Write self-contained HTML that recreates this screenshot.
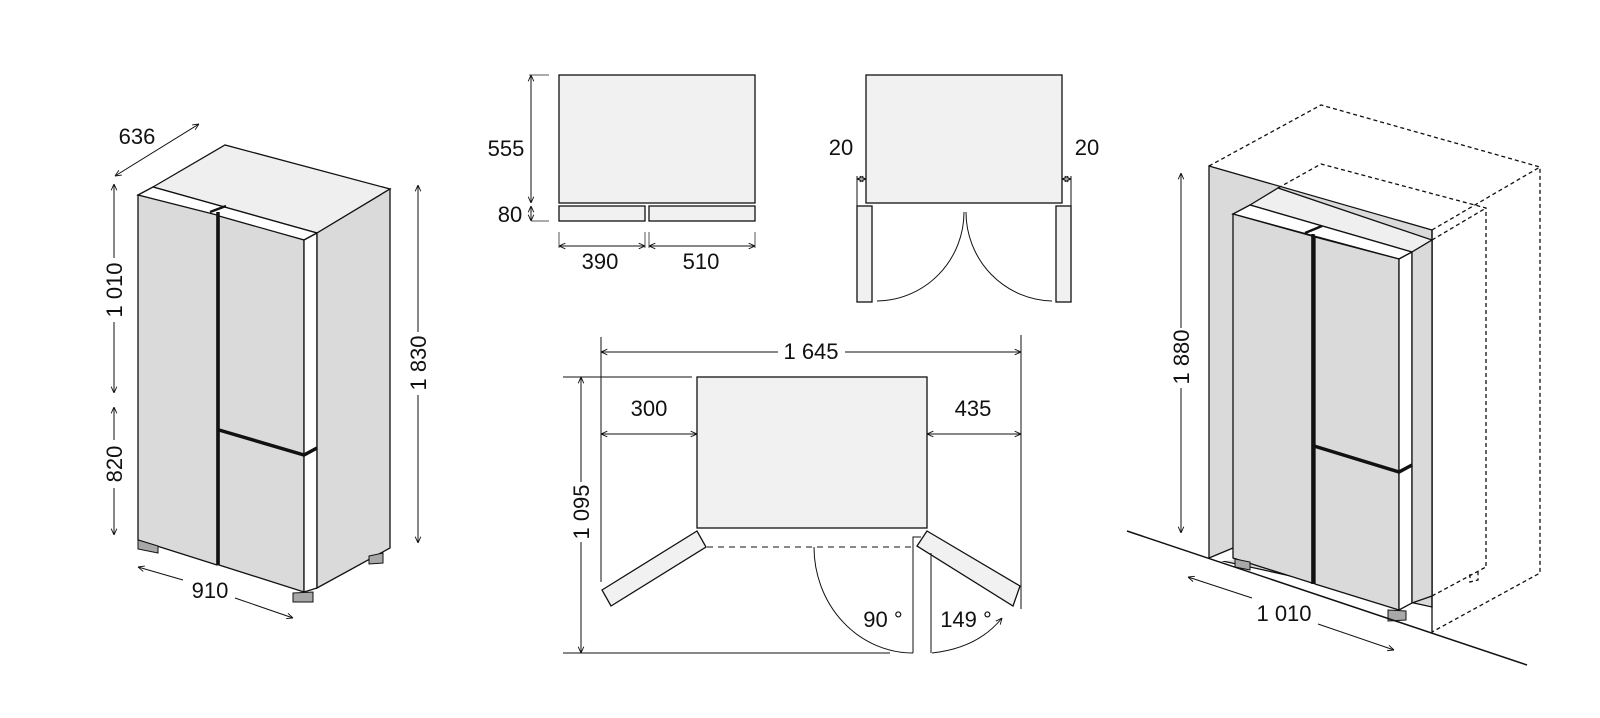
<!DOCTYPE html>
<html><head><meta charset="utf-8"><style>
html,body{margin:0;padding:0;background:#fff;}
svg{display:block;}
text{font-family:"Liberation Sans Narrow","Liberation Sans",sans-serif;font-size:22px;fill:#111;}
</style></head><body>
<svg width="1600" height="718" viewBox="0 0 1600 718" xmlns="http://www.w3.org/2000/svg">
<defs>
<marker id="a" viewBox="0 0 10 10" refX="10" refY="5" markerWidth="7" markerHeight="7" orient="auto-start-reverse" markerUnits="userSpaceOnUse">
<path d="M1,1 L10,5 L1,9" fill="none" stroke="#111" stroke-width="1.3"/></marker>
</defs>
<g stroke="#111" stroke-width="1" fill="none">
<!-- LEFT FRIDGE -->
<g stroke-width="1.3">
<polygon points="153,187 225,145 390,189 317,233" fill="#efefef"/>
<polygon points="138,195 153,187 317,233 304,240" fill="#fff"/>
<polygon points="138,195 217,215 217,565 138,540" fill="#dadada"/>
<polygon points="219,216 304,240 304,592 219,565" fill="#dadada"/>
<polygon points="304,240 317,233 317,588 304,592" fill="#fff"/>
<polygon points="317,233 390,189 390,548 317,588" fill="#dadada"/>
<polygon points="138,540 158,546 158,553 138,549" fill="#a8a8a8" stroke-width="1"/>
<polygon points="293,593 313,592 313,602 293,602" fill="#a8a8a8" stroke-width="1"/>
<polygon points="369,556 383,553 383,563 369,564" fill="#a8a8a8" stroke-width="1"/>
</g>
<line x1="218" y1="212" x2="218" y2="565" stroke-width="3.5"/>
<polyline points="219,430 304,455 317,448" stroke-width="3.5"/>
<line x1="210" y1="212" x2="226" y2="206" stroke-width="2.5"/>
<!-- left dims -->
<line x1="115" y1="176" x2="199" y2="124" marker-start="url(#a)" marker-end="url(#a)"/>
<line x1="114" y1="184" x2="114" y2="258" marker-start="url(#a)"/>
<line x1="114" y1="322" x2="114" y2="393" marker-end="url(#a)"/>
<line x1="114" y1="407" x2="114" y2="440" marker-start="url(#a)"/>
<line x1="114" y1="488" x2="114" y2="535" marker-end="url(#a)"/>
<line x1="418" y1="185" x2="418" y2="332" marker-start="url(#a)"/>
<line x1="418" y1="395" x2="418" y2="543" marker-end="url(#a)"/>
<line x1="138" y1="567" x2="183" y2="580" marker-start="url(#a)"/>
<line x1="235" y1="598" x2="293" y2="618" marker-end="url(#a)"/>

<!-- TOP MIDDLE LEFT -->
<rect x="559" y="75" width="196" height="128" fill="#f1f1f1" stroke-width="1.3"/>
<rect x="559" y="206" width="86" height="15" fill="#f1f1f1" stroke-width="1.3"/>
<rect x="649" y="206" width="106" height="15" fill="#f1f1f1" stroke-width="1.3"/>
<line x1="529" y1="75" x2="549" y2="75" stroke="#555"/>
<line x1="531" y1="221" x2="549" y2="221" stroke="#555"/>
<line x1="531" y1="75" x2="531" y2="203" marker-start="url(#a)" marker-end="url(#a)"/>
<line x1="531" y1="206" x2="531" y2="221" marker-start="url(#a)" marker-end="url(#a)"/>
<line x1="559" y1="232" x2="559" y2="248" stroke="#555"/>
<line x1="645" y1="232" x2="645" y2="248" stroke="#555"/>
<line x1="649" y1="232" x2="649" y2="248" stroke="#555"/>
<line x1="755" y1="232" x2="755" y2="248" stroke="#555"/>
<line x1="559" y1="246" x2="645" y2="246" marker-start="url(#a)" marker-end="url(#a)"/>
<line x1="649" y1="246" x2="755" y2="246" marker-start="url(#a)" marker-end="url(#a)"/>

<!-- TOP MIDDLE RIGHT -->
<rect x="866" y="75" width="196" height="128" fill="#f1f1f1" stroke-width="1.3"/>
<rect x="857" y="206" width="15" height="96" fill="#f1f1f1" stroke-width="1.3"/>
<rect x="1056" y="206" width="15" height="96" fill="#f1f1f1" stroke-width="1.3"/>
<line x1="857" y1="176" x2="857" y2="206"/>
<line x1="1071" y1="176" x2="1071" y2="206"/>
<line x1="857" y1="179" x2="866" y2="179" marker-start="url(#a)" marker-end="url(#a)" stroke-width="0.8"/>
<line x1="1062" y1="179" x2="1071" y2="179" marker-start="url(#a)" marker-end="url(#a)" stroke-width="0.8"/>
<path d="M964,212 A88,89 0 0 1 877,301"/>
<path d="M966,212 A88,89 0 0 0 1052,301"/>

<!-- LOWER MIDDLE -->
<rect x="697" y="377" width="230" height="151" fill="#f1f1f1" stroke-width="1.3"/>
<line x1="601" y1="337" x2="601" y2="582"/>
<line x1="1021" y1="335" x2="1021" y2="609"/>
<line x1="563" y1="377" x2="692" y2="377"/>
<line x1="601" y1="352" x2="778" y2="352" marker-start="url(#a)"/>
<line x1="845" y1="352" x2="1021" y2="352" marker-end="url(#a)"/>
<line x1="601" y1="434" x2="697" y2="434" marker-start="url(#a)" marker-end="url(#a)"/>
<line x1="927" y1="434" x2="1021" y2="434" marker-start="url(#a)" marker-end="url(#a)"/>
<line x1="581" y1="377" x2="581" y2="482" marker-start="url(#a)"/>
<line x1="581" y1="542" x2="581" y2="653" marker-end="url(#a)"/>
<line x1="563" y1="653" x2="890" y2="653"/>
<polygon points="602,590 697,531 706,547 611,606" fill="#f1f1f1" stroke-width="1.3"/>
<polygon points="927,531 1020,586 1013,606 917,546" fill="#f1f1f1" stroke-width="1.3"/>
<line x1="707" y1="547" x2="913" y2="547" stroke-dasharray="6,5"/>
<polyline points="913,653 913,537 921,537"/>
<line x1="931" y1="553" x2="931" y2="653"/>
<path d="M814,547 A99,106 0 0 0 913,653"/>
<path d="M932,653 Q978,648 1002,618" marker-end="url(#a)"/>

<!-- RIGHT FRIDGE -->
<g stroke-width="1.3">
<polygon points="1209,166 1432,230 1432,607 1209,558" fill="#dadada"/>
<line x1="1432" y1="230" x2="1432" y2="633"/>
<polygon points="1250,205 1278,188 1432,240 1412,252" fill="#efefef"/>
<polygon points="1233,214 1250,205 1412,252 1399,259" fill="#fff"/>
<polygon points="1209,558 1233,548 1233,560 1215,562" fill="#fff" stroke="none"/>
<line x1="1209" y1="558" x2="1233" y2="548"/>
<polygon points="1233,214 1312,236 1312,583 1233,558" fill="#dadada"/>
<polygon points="1315,237 1399,259 1399,610 1315,584" fill="#dadada"/>
<polygon points="1399,259 1412,252 1412,603 1399,610" fill="#fff"/>
<polygon points="1412,252 1432,240 1432,596 1412,603" fill="#dadada"/>
<polygon points="1235,559 1250,562 1250,570 1235,567" fill="#a8a8a8" stroke-width="1"/>
<polygon points="1388,610 1406,611 1406,620 1388,621" fill="#a8a8a8" stroke-width="1"/>
</g>
<line x1="1313" y1="234" x2="1313" y2="584" stroke-width="3.5"/>
<polyline points="1314,446 1399,472 1412,465" stroke-width="3.5"/>
<line x1="1305" y1="233" x2="1322" y2="226" stroke-width="2.5"/>
<line x1="1127" y1="531" x2="1527" y2="665" stroke-width="1.5"/>
<g stroke-dasharray="4,3" stroke-width="1.3">
<polyline points="1209,166 1321,105 1540,167 1540,573 1432,632"/>
<line x1="1432" y1="230" x2="1540" y2="167"/>
<polyline points="1278,188 1321,164 1486,208 1486,567"/>
<line x1="1432" y1="240" x2="1486" y2="208"/>
<line x1="1432" y1="596" x2="1486" y2="567"/>
<polyline points="1470,574 1470,582 1478,580 1478,572"/>
</g>
<line x1="1181" y1="173" x2="1181" y2="328" marker-start="url(#a)"/>
<line x1="1181" y1="388" x2="1181" y2="533" marker-end="url(#a)"/>
<line x1="1188" y1="577" x2="1252" y2="598" marker-start="url(#a)"/>
<line x1="1318" y1="624" x2="1394" y2="650" marker-end="url(#a)"/>
</g>

<!-- LABELS -->
<text x="137" y="144" text-anchor="middle">636</text>
<text transform="translate(122,290) rotate(-90)" text-anchor="middle">1 010</text>
<text transform="translate(122,464) rotate(-90)" text-anchor="middle">820</text>
<text transform="translate(426,363) rotate(-90)" text-anchor="middle">1 830</text>
<text x="210" y="598" text-anchor="middle">910</text>
<text x="506" y="156" text-anchor="middle">555</text>
<text x="510" y="222" text-anchor="middle">80</text>
<text x="600" y="269" text-anchor="middle">390</text>
<text x="701" y="269" text-anchor="middle">510</text>
<text x="841" y="155" text-anchor="middle">20</text>
<text x="1087" y="155" text-anchor="middle">20</text>
<text x="811" y="359" text-anchor="middle">1 645</text>
<text x="649" y="416" text-anchor="middle">300</text>
<text x="973" y="416" text-anchor="middle">435</text>
<text transform="translate(589,512) rotate(-90)" text-anchor="middle">1 095</text>
<text x="883" y="627" text-anchor="middle">90 °</text>
<text x="966" y="627" text-anchor="middle">149 °</text>
<text transform="translate(1189,357) rotate(-90)" text-anchor="middle">1 880</text>
<text x="1284" y="621" text-anchor="middle">1 010</text>
</svg>
</body></html>
